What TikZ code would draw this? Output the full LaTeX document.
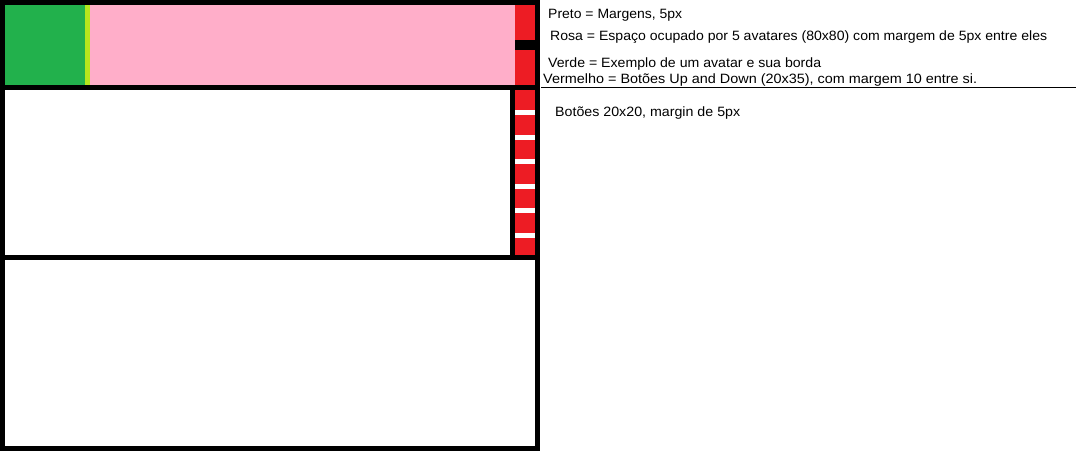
\documentclass[tikz,border=0pt]{standalone}
\usepackage{fontspec}
\usepackage{graphicx}
\setmainfont{Liberation Sans}
\definecolor{pgreen}{RGB}{34,177,76}
\definecolor{plime}{RGB}{181,230,29}
\definecolor{ppink}{RGB}{255,174,201}
\definecolor{pred}{RGB}{237,28,36}
\newcommand\fitw[2]{\resizebox{#1}{\height}{#2}}
\tikzset{
  lbl/.style={inner sep=0pt, anchor=base west, font=\fontsize{13.5}{15}\selectfont},
}
\begin{document}
\begin{tikzpicture}[x=1pt,y=-1pt]
\useasboundingbox (0,0) rectangle (1076,451);
\fill[white] (0,0) rectangle (1076,451);
% black frame
\fill[black] (0,0) rectangle (540,451);
% top row
\fill[pgreen] (5,5) rectangle (85,85);
\fill[plime] (85,5) rectangle (90,85);
\fill[ppink] (90,5) rectangle (515,85);
\fill[pred] (515,5) rectangle (535,40);
\fill[pred] (515,50) rectangle (535,85);
% middle panel
\fill[white] (5,90) rectangle (510,255);
\fill[pred] (515,90) rectangle (535,255);
\foreach \y in {110,134.5,159,183.5,208,232.5}
  \fill[white] (515,\y) rectangle (535,\y+5);
% bottom panel
\fill[white] (5,260) rectangle (535,446);
% texts
\node[lbl] (t1) at (548,18) {\fitw{134pt}{Preto = Margens, 5px}};
\node[lbl] (t2) at (550,40) {\fitw{497pt}{Rosa = Espaço ocupado por 5 avatares (80x80) com margem de 5px entre eles}};
\node[lbl] (t3) at (548,67) {\fitw{273pt}{Verde = Exemplo de um avatar e sua borda}};
\node[lbl] (t4) at (543,83) {\fitw{434pt}{Vermelho = Botões Up and Down (20x35), com margem 10 entre si.}};
\node[lbl] (t5) at (555,116) {\fitw{185pt}{Botões 20x20, margin de 5px}};
\coordinate (l1) at (541,87.5);
\coordinate (l2) at (1076,87.5);
\draw[line width=1pt] (l1) -- (l2);
\end{tikzpicture}
\end{document}
